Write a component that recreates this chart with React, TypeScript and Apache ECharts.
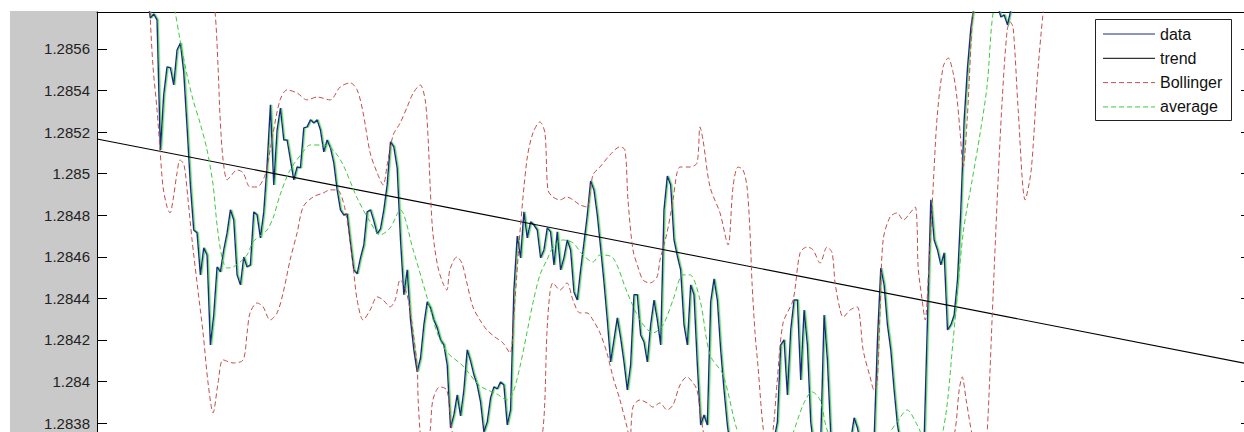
import React, { useEffect, useRef } from "react";
import * as echarts from "echarts";

// ---- axis range (price) ----
const Y_MIN = 1.2836;
const Y_MAX = 1.285778;
const Y_STEP = 0.0002;
const T_MIN = 0;
const T_MAX = 346;

// ---- raw data series (sample index starts at DATA_START) ----
const DATA_START = 15;
const dataValues = [
  1.28586, 1.285749, 1.285769, 1.28574, 1.285114, 1.285379, 1.285514, 1.285509, 1.285427, 1.285595,
  1.285629, 1.28549, 1.285225, 1.284946, 1.284729, 1.284715, 1.284513, 1.284643, 1.284609, 1.284176,
  1.28432, 1.284551, 1.284527, 1.284633, 1.284715, 1.284826, 1.284777, 1.284513, 1.284465, 1.284599,
  1.284551, 1.284561, 1.284816, 1.284801, 1.284691, 1.284816, 1.285042, 1.285331, 1.284946, 1.28521,
  1.285316, 1.285162, 1.285162, 1.285066, 1.28497, 1.285032, 1.285028, 1.28522, 1.285225, 1.285259,
  1.285244, 1.285259, 1.28521, 1.285105, 1.285162, 1.285124, 1.285052, 1.284922, 1.284826, 1.284801,
  1.284806, 1.284667, 1.284537, 1.284518, 1.284595, 1.284657, 1.284816, 1.284826, 1.284773, 1.28471,
  1.284734, 1.284826, 1.284946, 1.285153, 1.285129, 1.285028, 1.284681, 1.284417, 1.284537, 1.284296,
  1.284152, 1.284046, 1.284113, 1.284272, 1.284383, 1.284354, 1.284296, 1.284258, 1.2842, 1.284176,
  1.28408, 1.283777, 1.283839, 1.283935, 1.283834, 1.283959, 1.284152, 1.284099, 1.284032, 1.283983,
  1.283902, 1.283757, 1.283805, 1.283921, 1.283974, 1.283964, 1.283998, 1.283983, 1.283791, 1.283863,
  1.284441, 1.2847, 1.284595, 1.284816, 1.284691, 1.284768, 1.284753, 1.284729, 1.284595, 1.284633,
  1.284739, 1.28472, 1.284561, 1.28472, 1.284537, 1.284595, 1.284681, 1.284633, 1.284431, 1.284392,
  1.284537, 1.284667, 1.284801, 1.284965, 1.284922, 1.284801, 1.284643, 1.284479, 1.284296, 1.284094,
  1.2842, 1.284306, 1.28421, 1.284094, 1.283959, 1.28408, 1.284417, 1.284417, 1.284224, 1.28419,
  1.284094, 1.284272, 1.284392, 1.284296, 1.284176, 1.284826, 1.284989, 1.284946, 1.284681, 1.284604,
  1.284537, 1.284272, 1.284176, 1.284465, 1.284417, 1.28408, 1.283791, 1.283839, 1.283791, 1.284383,
  1.284494, 1.284392, 1.284152, 1.283959, 1.283791, 1.283671, 1.283574, 1.283526, 1.283502, 1.283526,
  1.283574, 1.283526, 1.283574, 1.28355, 1.283598, 1.283574, 1.283623, 1.283647, 1.283719, 1.283805,
  1.284176, 1.2842, 1.283935, 1.284248, 1.284392, 1.284392, 1.284007, 1.284344, 1.284176, 1.283805,
  1.283671, 1.283647, 1.283719, 1.28432, 1.284104, 1.283743, 1.283623, 1.283574, 1.283574, 1.283623,
  1.283671, 1.283719, 1.283825, 1.283777, 1.283695, 1.283647, 1.283623, 1.283647, 1.283719, 1.2842,
  1.284546, 1.284465, 1.284272, 1.284152, 1.283959, 1.283791, 1.283695, 1.283623, 1.283574, 1.28355,
  1.283574, 1.283598, 1.283647, 1.283719, 1.284296, 1.284874, 1.284681, 1.284633, 1.284561, 1.284619,
  1.284248, 1.284272, 1.28432, 1.284489, 1.284826, 1.285259, 1.285509, 1.285701, 1.285812, 1.285884,
  1.285932, 1.285956, 1.285956, 1.285932, 1.285884, 1.285812, 1.285754, 1.285764, 1.285716, 1.285788,
  1.28586, 1.285932, 1.28598, 1.286004, 1.286028, 1.286028, 1.28605, 1.28607, 1.28609, 1.2861, 1.28611,
];

// ---- linear trend ----
const trendT = [0, 346];
const trendV = [1.285167, 1.284082];

// ---- moving average ----
const avgT = [
  20.4, 23.4, 24.9, 27.0, 28.8, 30.9, 33.0, 34.8, 36.0, 37.5, 39.0, 40.8, 42.9, 45.0, 46.8, 48.9, 51.0,
  52.8, 54.9, 57.9, 61.8, 63.9, 67.8, 70.8, 73.8, 78.0, 81.9, 84.9, 87.9, 90.9, 94.8, 99.0, 102.0, 104.9,
  109.7, 114.8, 119.9, 122.9, 124.7, 126.8, 128.9, 130.7, 132.8, 134.9, 136.7, 139.7, 142.7, 145.7, 148.7,
  150.8, 154.7, 158.9, 162.8, 166.7, 169.7, 172.7, 175.7, 177.8, 180.8, 183.8, 187.7, 191.9, 195.8, 201.8,
  207.8, 211.7, 214.4, 216.8, 218.9, 222.8, 228.8, 234.8, 239.9, 242.9, 245.9, 249.8, 253.7, 256.7, 259.7,
  262.4, 264.8, 266.9, 268.7, 272.3, 276.8,
];
const avgV = [
  1.28598, 1.285778, 1.285644, 1.285475, 1.285355, 1.285244, 1.285114, 1.284946, 1.284753, 1.284595,
  1.284546, 1.284551, 1.284575, 1.284609, 1.284672, 1.2847, 1.284729, 1.284787, 1.284898, 1.285018,
  1.285105, 1.285138, 1.285138, 1.285114, 1.285042, 1.284883, 1.284768, 1.284705, 1.284739, 1.284826,
  1.284633, 1.284402, 1.284234, 1.284142, 1.284075, 1.283979, 1.28394, 1.283911, 1.283945, 1.28407,
  1.284234, 1.284378, 1.284513, 1.284585, 1.284643, 1.284681, 1.284667, 1.284609, 1.284575, 1.284609,
  1.284595, 1.284431, 1.284296, 1.284234, 1.284272, 1.284392, 1.284513, 1.284513, 1.284392, 1.284128,
  1.284032, 1.283767, 1.283623, 1.283574, 1.283719, 1.283887, 1.28395, 1.283911, 1.283767, 1.283647,
  1.283623, 1.283695, 1.283805, 1.283863, 1.283791, 1.283671, 1.283767, 1.2842, 1.284715, 1.28497,
  1.285196, 1.285427, 1.285778, 1.286028, 1.286221,
];

// ---- Bollinger upper band ----
const upperT = [
  15.3, 24.9, 30.9, 34.5, 35.4, 36.3, 36.9, 37.8, 39.0, 39.9, 42.0, 43.8, 45.9, 48.0, 50.4, 51.9, 52.8,
  54.9, 57.0, 60.0, 63.0, 66.0, 69.9, 72.9, 75.9, 78.0, 79.8, 81.9, 84.0, 85.8, 87.0, 88.8, 90.9, 93.0,
  94.8, 96.9, 98.4, 99.3, 99.9, 100.7, 102.2, 103.7, 104.9, 105.8, 107.9, 109.4, 110.9, 112.7, 114.8,
  116.9, 119.3, 121.7, 123.8, 125.3, 126.8, 128.9, 130.7, 132.8, 134.3, 135.2, 136.7, 138.8, 140.9, 142.7,
  144.8, 146.9, 148.7, 150.8, 153.8, 156.8, 158.3, 159.2, 160.7, 162.2, 163.7, 165.8, 167.9, 168.8, 170.9,
  172.7, 173.9, 174.8, 177.8, 179.9, 180.8, 181.7, 183.8, 186.8, 189.2, 190.7, 192.2, 193.7, 194.9, 195.8,
  196.4, 197.3, 198.2, 199.7, 201.2, 202.7, 203.9, 205.7, 208.7, 210.8, 212.9, 214.7, 216.8, 218.9, 220.4,
  221.3, 222.8, 223.7, 225.8, 227.9, 228.8, 229.7, 231.8, 233.0, 233.9, 234.8, 235.7, 237.8, 239.9, 241.7,
  243.8, 245.3, 245.9, 246.2, 247.4, 248.3, 249.5, 250.7, 251.9, 253.7, 255.2, 256.7, 257.9, 258.8, 259.7,
  260.9, 262.1, 263.3, 266.3, 273.8,
];
const upperV = [
  1.286558, 1.286269, 1.286028, 1.285836, 1.285778, 1.285514, 1.285273, 1.285066, 1.28497, 1.284984,
  1.285018, 1.285004, 1.284936, 1.284936, 1.284994, 1.285114, 1.285196, 1.285355, 1.285403, 1.285388,
  1.285355, 1.285369, 1.285355, 1.285417, 1.285437, 1.285403, 1.285292, 1.2851, 1.285004, 1.284946,
  1.285042, 1.285186, 1.285244, 1.285321, 1.285388, 1.285427, 1.285355, 1.285162, 1.284936, 1.284715,
  1.284551, 1.284474, 1.28444, 1.284537, 1.284599, 1.28457, 1.284474, 1.284359, 1.284296, 1.284248,
  1.284214, 1.284186, 1.284137, 1.284392, 1.284715, 1.285066, 1.285196, 1.285249, 1.285196, 1.284922,
  1.284888, 1.284874, 1.284888, 1.284874, 1.28485, 1.28484, 1.284994, 1.285032, 1.28509, 1.285129,
  1.285114, 1.284874, 1.284633, 1.284551, 1.284489, 1.284474, 1.284503, 1.284585, 1.284715, 1.284874,
  1.285004, 1.285032, 1.285032, 1.285052, 1.285225, 1.285162, 1.284936, 1.284811, 1.284657, 1.284936,
  1.285032, 1.285018, 1.284936, 1.284715, 1.284474, 1.284234, 1.28407, 1.283781, 1.283647, 1.283767,
  1.283993, 1.284282, 1.284392, 1.284619, 1.284647, 1.284633, 1.28457, 1.284647, 1.284619, 1.284474,
  1.284344, 1.28431, 1.284344, 1.284359, 1.284296, 1.284152, 1.284022, 1.283959, 1.283993, 1.284344,
  1.284681, 1.284792, 1.284811, 1.284777, 1.284811, 1.28484, 1.284744, 1.284551, 1.284392, 1.284296,
  1.284585, 1.284936, 1.285273, 1.285514, 1.285557, 1.285485, 1.285355, 1.285196, 1.285032, 1.285259,
  1.285643, 1.28598, 1.286413, 1.286558,
];

// ---- Bollinger lower band ----
const lowerT = [
  15.3, 15.9, 16.8, 18.0, 18.9, 19.8, 21.0, 21.9, 22.8, 24.0, 24.9, 26.1, 27.3, 28.5, 30.0, 31.8, 33.3,
  34.8, 36.3, 37.8, 40.8, 43.8, 45.0, 45.9, 48.0, 49.8, 51.9, 54.0, 55.8, 57.9, 60.0, 61.8, 64.8, 67.8,
  69.9, 72.0, 74.4, 76.8, 78.0, 79.8, 81.9, 84.0, 85.8, 87.9, 89.4, 90.9, 93.0, 94.8, 96.0, 96.3, 97.2,
  98.7, 99.9, 100.7, 102.8, 104.9, 106.4, 108.8, 114.8, 120.8, 126.8, 131.3, 133.7, 134.9, 135.8, 136.7,
  138.8, 140.9, 142.7, 144.8, 146.9, 148.7, 150.8, 152.9, 154.7, 156.8, 158.9, 159.8, 160.7, 162.8, 164.9,
  166.7, 168.8, 170.9, 172.7, 174.8, 176.9, 178.7, 179.9, 180.8, 181.7, 183.8, 192.8, 210.8, 228.8, 246.8,
  255.8, 257.3, 258.5, 259.4, 260.6, 262.4, 264.5, 266.0, 266.9, 268.4, 269.9, 271.4, 272.9, 273.8, 274.7,
  276.2, 278.3, 280.1, 281.9, 283.7, 285.8,
];
const lowerV = [
  1.286125, 1.285778, 1.285514, 1.285307, 1.285114, 1.284936, 1.28484, 1.284811, 1.284874, 1.285004,
  1.285066, 1.285042, 1.284874, 1.284681, 1.284474, 1.284234, 1.283993, 1.283849, 1.283993, 1.284104,
  1.284089, 1.284104, 1.284234, 1.28433, 1.284378, 1.284359, 1.284296, 1.28433, 1.284426, 1.284585,
  1.284715, 1.28484, 1.284888, 1.284907, 1.284922, 1.284922, 1.284826, 1.284551, 1.284392, 1.284296,
  1.284344, 1.284407, 1.284392, 1.284359, 1.284392, 1.284489, 1.284416, 1.284234, 1.28407, 1.283911,
  1.283719, 1.283671, 1.283767, 1.283911, 1.283974, 1.283959, 1.283767, 1.283598, 1.283502, 1.283526,
  1.283574, 1.283671, 1.283767, 1.284234, 1.284426, 1.284474, 1.28444, 1.284474, 1.284392, 1.28433,
  1.28433, 1.284296, 1.284234, 1.284137, 1.284022, 1.283911, 1.283781, 1.283719, 1.283877, 1.283911,
  1.283897, 1.283877, 1.283897, 1.283863, 1.283887, 1.283983, 1.284022, 1.283993, 1.283959, 1.283863,
  1.283767, 1.283598, 1.28338, 1.283428, 1.283478, 1.283574, 1.283695, 1.283767, 1.283959, 1.284022,
  1.283911, 1.283743, 1.283623, 1.283647, 1.283757, 1.284311, 1.284874, 1.285355, 1.285692, 1.28573,
  1.285701, 1.285307, 1.284874, 1.285018, 1.285451, 1.285778, 1.286028,
];

// ---- legend entries ----
const LEGEND_NAMES = ["data", "trend", "Bollinger", "average"];
const COLORS = { data: "#1d2b7e", trend: "#000000", boll: "#c0504a", avg: "#3ccc3c" };
const DASH = [5, 3];

const FONT = "'Liberation Sans', Arial, Helvetica, sans-serif";
const zip = (ts: number[], vs: number[]) => ts.map((t, i) => [t, vs[i]]);

export default function App() {
  const ref = useRef<HTMLDivElement>(null);

  useEffect(() => {
    document.body.style.margin = "0";
    if (!ref.current) return;
    const chart = echarts.init(ref.current, undefined, { renderer: "svg" });

    const dataPoints = dataValues.map((v, i) => [DATA_START + i, v]);
    const legendStyles = [
      { stroke: COLORS.data, lineDash: null, lineWidth: 1.2 },
      { stroke: COLORS.trend, lineDash: null, lineWidth: 1 },
      { stroke: COLORS.boll, lineDash: DASH, lineWidth: 1 },
      { stroke: COLORS.avg, lineDash: DASH, lineWidth: 1 },
    ];
    const legendX = 1095;
    const legendY = 19;
    const rowPitch = 24.3;
    const legendGraphics: any[] = [
      {
        type: "rect",
        z: 100,
        silent: true,
        shape: { x: legendX + 0.5, y: legendY + 0.5, width: 136, height: 101 },
        style: { fill: "#ffffff", stroke: "#222", lineWidth: 1 },
      },
    ];
    LEGEND_NAMES.forEach((name, i) => {
      const cy = legendY + 15 + i * rowPitch;
      legendGraphics.push({
        type: "line",
        z: 101,
        silent: true,
        shape: { x1: legendX + 8, y1: cy, x2: legendX + 60, y2: cy },
        style: legendStyles[i],
      });
      legendGraphics.push({
        type: "text",
        z: 101,
        silent: true,
        x: legendX + 65,
        y: cy,
        style: {
          text: name,
          fill: "#111",
          font: `16px ${FONT}`,
          verticalAlign: "middle",
          align: "left",
        },
      });
    });

    const bandStyle = { color: COLORS.boll, width: 1, type: DASH };

    chart.setOption({
      animation: false,
      backgroundColor: "#ffffff",
      grid: {
        left: 97,
        top: 12,
        width: 1154,
        height: 452.6,
        containLabel: false,
        outerBoundsMode: "none",
      },
      graphic: [
        {
          type: "rect",
          z: -10,
          silent: true,
          shape: { x: 10, y: 11, width: 87, height: 421 },
          style: { fill: "#c9c9c9" },
        },
        ...legendGraphics,
      ],
      xAxis: {
        type: "value",
        min: T_MIN,
        max: T_MAX,
        position: "top",
        axisLine: { show: true, lineStyle: { color: "#000", width: 1 } },
        axisTick: { show: false },
        axisLabel: { show: false },
        splitLine: { show: false },
      },
      yAxis: [
        {
          type: "value",
          min: Y_MIN,
          max: Y_MAX,
          interval: Y_STEP,
          position: "left",
          axisLine: { show: true, lineStyle: { color: "#000", width: 1 } },
          axisTick: { show: true, inside: true, length: 10, lineStyle: { color: "#000" } },
          axisLabel: {
            show: true,
            margin: 7,
            showMaxLabel: false,
            showMinLabel: false,
            color: "#222",
            fontSize: 15,
            lineHeight: 12,
            fontFamily: FONT,
            formatter: (v: number) => String(parseFloat(v.toFixed(4))),
          },
          splitLine: { show: false },
        },
        {
          type: "value",
          min: Y_MIN,
          max: Y_MAX,
          interval: Y_STEP,
          position: "right",
          axisLine: { show: true, lineStyle: { color: "#000", width: 1 } },
          axisTick: { show: true, inside: true, length: 10, lineStyle: { color: "#000" } },
          axisLabel: { show: false },
          splitLine: { show: false },
        },
      ],
      series: [
        {
          name: "data",
          type: "line",
          data: dataPoints,
          symbol: "none",
          showSymbol: false,
          color: COLORS.data,
          lineStyle: {
            color: COLORS.data,
            width: 1.4,
            shadowColor: "rgba(70,205,70,0.85)",
            shadowBlur: 0,
            shadowOffsetX: 1.2,
            shadowOffsetY: 0,
          },
          z: 2,
        },
        {
          name: "trend",
          type: "line",
          data: zip(trendT, trendV),
          symbol: "none",
          color: COLORS.trend,
          lineStyle: { color: COLORS.trend, width: 1.1 },
          z: 3,
        },
        {
          name: "Bollinger",
          type: "line",
          data: zip(upperT, upperV),
          symbol: "none",
          smooth: 0.3,
          color: COLORS.boll,
          lineStyle: bandStyle,
          z: 4,
        },
        {
          name: "Bollinger",
          type: "line",
          data: zip(lowerT, lowerV),
          symbol: "none",
          smooth: 0.3,
          color: COLORS.boll,
          lineStyle: bandStyle,
          z: 4,
        },
        {
          name: "average",
          type: "line",
          data: zip(avgT, avgV),
          symbol: "none",
          smooth: 0.3,
          color: COLORS.avg,
          lineStyle: { color: COLORS.avg, width: 1, type: DASH },
          z: 5,
        },
      ],
    });

    return () => {
      chart.dispose();
    };
  }, []);

  return <div ref={ref} style={{ width: 1244, height: 432 }} />;
}
